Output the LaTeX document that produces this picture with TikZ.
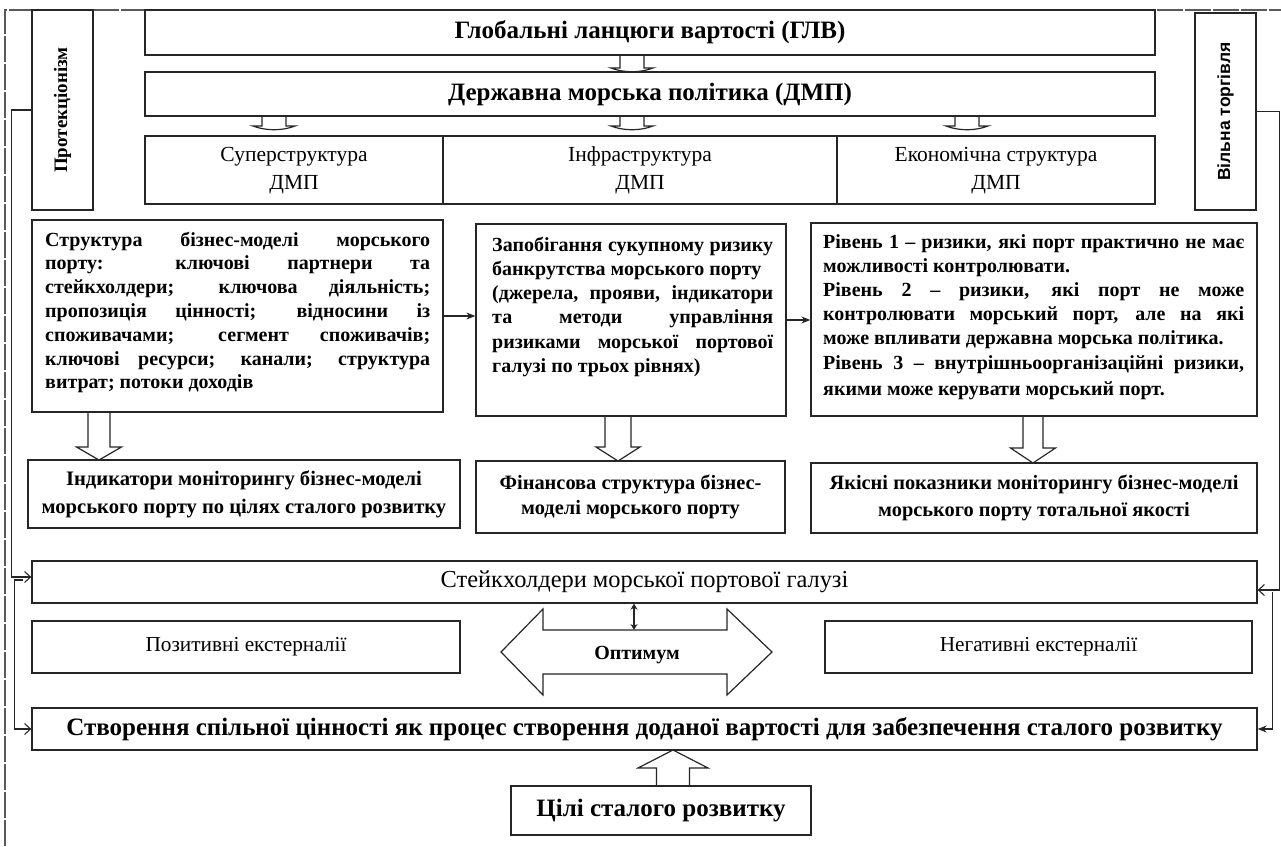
\documentclass[tikz,border=0pt]{standalone}
\usepackage{fontspec}
\setmainfont{Liberation Serif}
\newfontfamily\sansfam{Liberation Sans}
\usetikzlibrary{arrows.meta,calc}
\newcommand\fsz[2]{\fontsize{#1}{#2}\selectfont}
\newcommand\jline[2]{\makebox[#1][s]{#2}}
\newcommand\mysmallarrow[4]{%
  \draw[blk] (#1-12,#2) -- (#1-12,#3) -- (#1-21,#3) .. controls (#1-8,#4) and (#1+8,#4) .. (#1+21,#3) -- (#1+12,#3) -- (#1+12,#2);}
\newcommand\myblockarrow[6]{%
  \draw[blk] (#1-#5,#2) -- (#1-#5,#3) -- (#1-#6,#3) -- (#1,#4) -- (#1+#6,#3) -- (#1+#5,#3) -- (#1+#5,#2);}
\tikzset{
  box/.style={draw=black!85, line width=1.3pt, inner sep=0pt, fill=white},
  blk/.style={draw=black!85, line width=1.2pt, line join=miter},
  conn/.style={draw=black!85, line width=1.1pt},
  frame/.style={draw=black!65, line width=1.6pt, dash pattern=on 26pt off 2pt},
  openhead/.style={-{Straight Barb[length=6pt,width=11pt,line width=1.1pt]}},
  fillhead/.style={-{Stealth[length=9pt,width=7pt]}},
}
\begin{document}
\begin{tikzpicture}[x=1pt,y=-1pt]
\useasboundingbox (0,0) rectangle (1281,846);
\fill[white] (0,0) rectangle (1281,846);
% outer frame
\draw[frame] (5,846) -- (5,10) -- (1281,10);

% top boxes
\node[box, minimum width=1010pt, minimum height=45pt, font=\fsz{25}{28}\bfseries] (glv) at (650,32.5) {Глобальні ланцюги вартості (ГЛВ)};
\node[box, minimum width=1010pt, minimum height=44pt, font=\fsz{25}{28}\bfseries] (dmp) at (650,94) {Державна морська політика (ДМП)};
\node[box, minimum width=298pt, minimum height=68pt, align=center, font=\fsz{21.5}{28}] (c1) at (294,170) {\strut Суперструктура\\\strut ДМП};
\node[box, minimum width=394pt, minimum height=68pt, align=center, font=\fsz{21.5}{28}] (c2) at (640,170) {\strut Інфраструктура\\\strut ДМП};
\node[box, minimum width=318pt, minimum height=68pt, align=center, font=\fsz{21.5}{28}] (c3) at (996,170) {\strut Економічна структура\\\strut ДМП};

\mysmallarrow{632}{55}{68}{73}
\mysmallarrow{274}{116}{126}{131}
\mysmallarrow{632}{116}{126}{131}
\mysmallarrow{967}{116}{126}{131}

% side boxes
\node[box, minimum width=61pt, minimum height=200pt] (prot) at (62.5,110) {};
\node[rotate=90, inner sep=0pt, font=\fsz{19}{22}\bfseries] (prott) at (prot.center) {Протекціонізм};
\node[box, minimum width=61pt, minimum height=197pt] (free) at (1225.5,111.5) {};
\node[rotate=90, inner sep=0pt, font=\sansfam\fsz{17.5}{20}\bfseries] (freet) at (free.center) {Вільна торгівля};

% middle row
\node[box, minimum width=411pt, minimum height=192pt] (bm) at (237.5,316) {};
\node[anchor=base west, inner sep=0pt] (bmt) at (45,246) {\parbox[t]{385pt}{\fsz{20}{23.8}\bfseries
\jline{385pt}{Структура бізнес-моделі морського}\\
\jline{385pt}{порту: ключові партнери та}\\
\jline{385pt}{стейкхолдери; ключова діяльність;}\\
\jline{385pt}{пропозиція цінності; відносини із}\\
\jline{385pt}{споживачами; сегмент споживачів;}\\
\jline{385pt}{ключові ресурси; канали; структура}\\
витрат; потоки доходів}};

\node[box, minimum width=310pt, minimum height=192pt] (risk) at (631,320) {};
\node[anchor=base west, inner sep=0pt] (riskt) at (492,251) {\parbox[t]{281pt}{\fsz{20}{24.3}\bfseries
\jline{281pt}{Запобігання сукупному ризику}\\
банкрутства морського порту\\
\jline{281pt}{(джерела, прояви, індикатори}\\
\jline{281pt}{та методи управління}\\
\jline{281pt}{ризиками морської портової}\\
галузі по трьох рівнях)}};

\node[box, minimum width=446pt, minimum height=193pt] (lvl) at (1034,319.5) {};
\node[anchor=base west, inner sep=0pt] (lvlt) at (823,248) {\parbox[t]{421pt}{\fsz{20}{24.2}\bfseries
\jline{421pt}{Рівень 1 – ризики, які порт практично не має}\\
можливості контролювати.\\
\jline{421pt}{Рівень 2 – ризики, які порт не може}\\
\jline{421pt}{контролювати морський порт, але на які}\\
може впливати державна морська політика.\\
\jline{421pt}{Рівень 3 – внутрішньоорганізаційні ризики,}\\[2pt]
якими може керувати морський порт.}};

\draw[conn, fillhead] (bm.east) -- (bm.east -| risk.west);
\draw[conn, fillhead] (risk.east) -- (risk.east -| lvl.west);

% lower row of middle section
\node[box, minimum width=432pt, minimum height=68pt, align=center, font=\fsz{20.6}{28}\bfseries] (ind) at (244,494) {\strut Індикатори моніторингу бізнес-моделі\\\strut морського порту по цілях сталого розвитку};
\node[box, minimum width=309pt, minimum height=72pt, align=center, font=\fsz{20.4}{25}\bfseries] (fin) at (630.5,497) {\strut Фінансова структура бізнес-\\\strut моделі морського порту};
\node[box, minimum width=446pt, minimum height=70pt, align=center, font=\fsz{20.4}{27}\bfseries] (qual) at (1034,498) {\strut Якісні показники моніторингу бізнес-моделі\\\strut морського порту тотальної якості};

\myblockarrow{99}{412}{447}{460}{11}{22.5}
\myblockarrow{618}{416}{447}{461}{13}{22}
\myblockarrow{1033}{416}{448}{463}{10}{22.5}

% lower section
\node[box, minimum width=1225pt, minimum height=42pt, font=\fsz{24.4}{28}] (stk) at (644.5,582) {Стейкхолдери морської портової галузі};
\node[box, minimum width=428pt, minimum height=52pt, font=\fsz{21.3}{25}] (pos) at (246,647) {\raisebox{4pt}{Позитивні екстерналії}};
\node[box, minimum width=427pt, minimum height=52pt, font=\fsz{21.3}{25}] (neg) at (1038.5,647) {\raisebox{4pt}{Негативні екстерналії}};
\draw[blk, fill=white] (501,652) -- (543,609) -- (543,630) -- (727,630) -- (727,609) -- (772,652) -- (727,695) -- (727,674) -- (543,674) -- (543,695) -- cycle;
\node[inner sep=0pt, font=\fsz{20}{24}\bfseries] (opt) at (637,655) {Оптимум};
\coordinate (shafttop) at (634,630);
\draw[conn, {Stealth[length=6pt,width=7pt]}-{Stealth[length=6pt,width=7pt]}] (stk.south -| shafttop) -- (shafttop);

\node[box, minimum width=1225pt, minimum height=42pt, font=\fsz{25}{28}\bfseries] (cv) at (644.5,729) {Створення спільної цінності як процес створення доданої вартості для забезпечення сталого розвитку};
\node[box, minimum width=300pt, minimum height=49pt, font=\fsz{25}{28}\bfseries] (goal) at (661,810.5) {Цілі сталого розвитку};
\myblockarrow{673}{786}{768}{750}{16.5}{35}

% side connectors
\draw[conn, openhead] (prot.west) -| ([xshift=-20pt,yshift=5pt]stk.west) -- ([yshift=5pt]stk.west);
\draw[conn, openhead] ([xshift=-8pt,yshift=2pt]stk.west) -| ([xshift=-17pt]cv.west) -- (cv.west);
\draw[conn, openhead] (free.east) -| ([xshift=22pt,yshift=-8pt]stk.east) -- ([yshift=-8pt]stk.east);
\draw[conn, fillhead] ([xshift=15pt,yshift=-10pt]stk.east) -- ([xshift=15pt]cv.east) -- (cv.east);
\end{tikzpicture}
\end{document}
